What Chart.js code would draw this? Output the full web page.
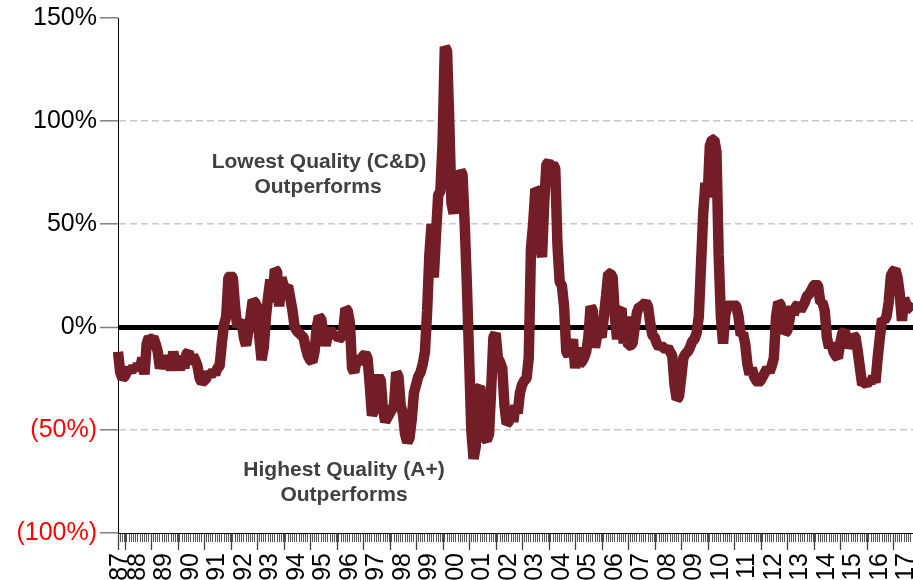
<!DOCTYPE html>
<html>
<head>
<meta charset="utf-8">
<script src="https://cdn.jsdelivr.net/npm/chart.js@4.4.0/dist/chart.umd.min.js"></script>
<style>
  html, body { margin: 0; padding: 0; background: #fff; }
  #wrap { width: 913px; height: 580px; }
</style>
</head>
<body>
<div id="wrap"><canvas id="quality" width="913" height="580"></canvas></div>
<script>
// tick labels along the bottom, one per year
var years = ['87','88','89','90','91','92','93','94','95','96','97','98','99','00','01','02','03',
             '04','05','06','07','08','09','10','11','12','13','14','15','16','17'];

// y axis ticks (percent)
var yTicks = [150, 100, 50, 0, -50, -100];

// relative performance, lowest quality vs highest quality (%), monthly Oct 1987 - Oct 2017
var v1987 = [-12, -22, -25];
var v1988 = [-24, -22, -20, -22, -19, -21, -18, -20, -15, -23, -8, -5];
var v1989 = [-6, -5, -8, -12, -20, -17, -14, -19, -15, -21, -12, -18];
var v1990 = [-16, -21, -14, -20, -13, -12, -18, -14, -16, -19, -25, -27];
var v1991 = [-26, -25, -22, -24, -21, -23, -20, -19, -8, 1, 5, 24];
var v1992 = [25, 24, 10, 0, 2, 3, -5, -9, -2, 5, 13, 12];
var v1993 = [10, -5, -16, -10, 5, 15, 23, 12, 28, 27, 10, 24];
var v1994 = [20, 19, 20, 14, 8, 0, -2, -3, -4, -5, -10, -14];
var v1995 = [-16, -17, -12, 0, 5, 4, -3, -9, -4, -1, -3, -5];
var v1996 = [-3, -6, -5, -2, 9, 8, 2, -20, -22, -16, -15, -18];
var v1997 = [-14, -13, -15, -28, -43, -40, -26, -24, -26, -40, -46, -44];
var v1998 = [-42, -40, -38, -22, -24, -38, -42, -52, -56, -54, -45, -32];
var v1999 = [-28, -24, -22, -18, -12, 8, 35, 50, 24, 45, 64, 66];
var v2000 = [90, 136, 134, 100, 60, 55, 76, 58, 76, 74, 50, 20];
var v2001 = [-15, -50, -64, -58, -30, -29, -38, -54, -55, -52, -30, -5];
var v2002 = [-3, -15, -17, -20, -38, -47, -46, -40, -46, -38, -42, -32];
var v2003 = [-28, -26, -25, -15, 38, 50, 67, 66, 40, 34, 60, 79];
var v2004 = [80, 78, 79, 77, 40, 22, 20, 10, -12, -14, -10, -6];
var v2005 = [-20, -10, -18, -17, -15, -12, -5, 10, 8, -10, -4, -3];
var v2006 = [-5, 5, 15, 26, 26, 24, 5, -6, 8, 9, -8, 5];
var v2007 = [-9, -9, -8, 0, 7, 10, 10, 11, 12, 10, 2, -4];
var v2008 = [-5, -8, -10, -9, -10, -11, -10, -12, -14, -28, -35, -34];
var v2009 = [-25, -15, -13, -12, -10, -7, -6, -3, 5, 30, 55, 70];
var v2010 = [63, 88, 91, 91, 85, 35, 5, -8, 6, 10, 11, 10];
var v2011 = [11, 10, 5, -4, -3, -8, -18, -23, -20, -24, -26, -27];
var v2012 = [-26, -24, -22, -20, -22, -19, -15, 5, 12, 11, 3, -3];
var v2013 = [-2, 3, 10, 6, 10, 11, 8, 10, 12, 15, 16, 18];
var v2014 = [20, 21, 20, 12, 12, 8, -5, -10, -8, -12, -14, -15];
var v2015 = [-8, -3, -2, -5, -10, -8, -4, -5, -12, -20, -28, -27];
var v2016 = [-28, -26, -27, -24, -27, -15, -5, 4, 3, 5, 12, 25];
var v2017 = [27, 28, 24, 16, 3, 14, 11, 10, 9, 8];

var relPerf = [].concat(v1987, v1988, v1989, v1990, v1991, v1992, v1993, v1994, v1995, v1996,
  v1997, v1998, v1999, v2000, v2001, v2002, v2003, v2004, v2005, v2006, v2007, v2008, v2009,
  v2010, v2011, v2012, v2013, v2014, v2015, v2016, v2017);

// month categories and which of them carry a year label
var months = [];
var tickText = [];
for (var i = 0; i < relPerf.length; i++) {
  var m = (i + 9) % 12;
  var yr = 1987 + Math.floor((i + 9) / 12);
  months.push(yr + '-' + (m + 1 < 10 ? '0' : '') + (m + 1));
  var lab = years[yr - 1987];
  if (yr === 1987) tickText.push(m === 10 ? lab : '');
  else tickText.push(m === 6 ? lab : '');
}

var font = 'Liberation Sans, Arial, sans-serif';

// long ticks at each January
var yearTicks = {
  id: 'yearTicks',
  afterDraw: function(chart) {
    var xs = chart.scales.x, c = chart.ctx, b = chart.chartArea.bottom;
    c.save();
    c.strokeStyle = '#444';
    c.lineWidth = 1.3;
    for (var i = 0; i < months.length; i++) {
      if (i === 0 || months[i].slice(5) === '01') {
        var px = Math.round(xs.getPixelForValue(i)) + 0.5;
        c.beginPath();
        c.moveTo(px, b);
        c.lineTo(px, b + 17);
        c.stroke();
      }
    }
    c.restore();
  }
};

// the two text notes
var notes = {
  id: 'notes',
  afterDraw: function(chart) {
    var c = chart.ctx;
    c.save();
    c.fillStyle = '#404040';
    c.font = 'bold 21px ' + font;
    c.textAlign = 'center';
    c.textBaseline = 'middle';
    c.fillText('Lowest Quality (C&D)', 319, 162);
    c.fillText('Outperforms', 318, 187);
    c.fillText('Highest Quality (A+)', 344, 470);
    c.fillText('Outperforms', 344, 495);
    c.restore();
  }
};

new Chart(document.getElementById('quality'), {
  type: 'line',
  data: {
    labels: months,
    datasets: [{
      data: relPerf,
      borderColor: '#731d27',
      borderWidth: 10.5,
      borderJoinStyle: 'bevel',
      pointRadius: 0,
      tension: 0,
      fill: false
    }]
  },
  options: {
    responsive: false,
    animation: false,
    layout: { padding: { top: 18, right: 0, bottom: 0, left: 0 } },
    plugins: { legend: { display: false }, tooltip: { enabled: false } },
    scales: {
      x: {
        type: 'category',
        offset: false,
        grid: { drawOnChartArea: false, tickLength: 9, tickColor: '#555', tickWidth: 1 },
        border: { color: '#000', width: 1 },
        ticks: {
          autoSkip: false, maxRotation: 90, minRotation: 90, padding: 11,
          color: '#000', font: { family: font, size: 25 },
          callback: function(v, i) { return tickText[i]; }
        },
        afterFit: function(s) { s.height = 47; s.paddingLeft = 0; s.paddingRight = 0; }
      },
      y: {
        min: -100, max: 150,
        afterBuildTicks: function(s) { s.ticks = yTicks.map(function(v) { return { value: v }; }); },
        ticks: {
          padding: 3,
          font: { family: font, size: 25 },
          color: function(ctx) { return ctx.tick && ctx.tick.value < 0 ? '#ff0000' : '#000'; },
          callback: function(v) { return v < 0 ? '(' + (-v) + '%)' : v + '%'; }
        },
        grid: {
          tickLength: 18, tickColor: '#808080', tickWidth: 1.5,
          color: function(ctx) {
            var v = ctx.tick ? ctx.tick.value : null;
            if (v === 0) return '#000';
            if (v === 150 || v === -100) return 'rgba(0,0,0,0)';
            return '#c8c8c8';
          },
          lineWidth: function(ctx) { return ctx.tick && ctx.tick.value === 0 ? 5 : 1.6; }
        },
        border: {
          color: '#000', width: 1,
          dash: function(ctx) { return ctx.tick && ctx.tick.value !== 0 ? [7, 4] : []; }
        },
        afterFit: function(s) { s.width = 118; s.paddingTop = 0; s.paddingBottom = 0; }
      }
    }
  },
  plugins: [yearTicks, notes]
});
</script>
</body>
</html>
